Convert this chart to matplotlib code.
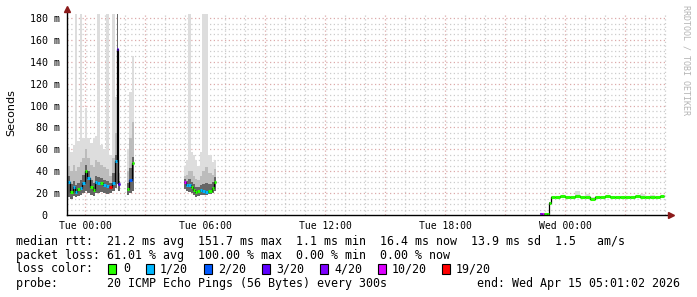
import numpy as np
import matplotlib
matplotlib.use("Agg")
import matplotlib.pyplot as plt
from matplotlib.patches import Rectangle
from matplotlib.lines import Line2D

W, H = 697, 297
MONO = "DejaVu Sans Mono"

# samples, hours relative to Tue 00:00 ; seg = data block (gaps between)
seg = [0] * 21 + [1] * 3 + [2] * 13 + [3] * 28
t = [-0.87, -0.75, -0.62, -0.50, -0.38, -0.25, -0.13, 0.00, 0.12, 0.25, 0.38,
     0.50, 0.62, 0.75, 0.88, 1.05, 1.20, 1.35, 1.50, 1.58, 1.67,
     2.08, 2.20, 2.33,
     4.97, 5.07, 5.17, 5.28, 5.40, 5.50, 5.62, 5.75, 5.87, 6.00, 6.17, 6.33, 6.45,
     22.75, 22.85, 22.95, 23.08, 23.20, 23.30, 23.50, 23.75, 24.00, 24.25, 24.50,
     24.75, 25.00, 25.25, 25.50, 25.75, 26.00, 26.25, 26.50, 26.75, 27.00, 27.25,
     27.50, 27.75, 28.00, 28.25, 28.50, 28.75]
seg_end = [1.75, 2.45, 6.55, 28.93]

# median rtt (ms) and loss class (index into loss_colors)
med = [30.4, 21.3, 25.9, 21.0, 23.7, 24.6, 29.0, 40.5, 33.5, 25.9, 22.9,
       30.4, 29.0, 29.5, 27.4, 26.5, 25.3, 29.5, 49.6, 151.7, 28.3,
       23.5, 32.0, 47.3,
       29.9, 27.0, 27.4, 25.3, 23.0, 21.3, 21.5, 22.9, 21.9, 21.3, 21.9, 24.4, 30.4,
       1.3, 1.1, 1.2, 1.2, 11.0, 16.2, 16.2, 17.0, 16.2, 16.2, 17.0,
       16.2, 16.2, 15.0, 16.2, 16.2, 17.0, 16.2, 16.2, 16.5, 16.2, 16.2,
       17.0, 16.4, 16.2, 16.2, 16.2, 17.0]
loss = [1, 0, 1, 1, 0, 1, 1, 0, 1, 0, 0, 1, 1, 0, 1, 1, 6, 1, 1, 3, 3,
        0, 2, 0,
        5, 1, 1, 0, 0, 0, 0, 1, 1, 1, 0, 0, 0,
        4, 5] + [0] * 26

# smoke: lowest ping, top of dark band, top of mid band, highest ping
lo = [16, 15, 17, 16, 17, 18, 20, 22, 20, 18, 17, 20, 20, 21, 20, 19, 20, 22, 25, 28, 22,
      18, 20, 22,
      24, 22, 21, 20, 18, 16, 17, 18, 18, 18, 19, 20, 22,
      0.9, 0.8, 0.9, 0.9, 10.5, 15.6, 15.6, 16.4, 15.6, 15.6, 16.4, 15.6, 15.6, 14.4,
      15.6, 15.6, 16.4, 15.6, 15.6, 15.9, 15.6, 15.6, 16.4, 15.8, 15.6, 15.6, 15.6, 16.4]
dk = [36, 28, 31, 27, 29, 32, 37, 46, 40, 32, 29, 36, 35, 34, 32, 31, 29, 38, 55, 185, 31,
      29, 43, 53,
      33, 31, 33, 30, 28, 26, 26, 27, 28, 29, 28, 30, 35,
      1.6, 1.4, 1.5, 1.5, 11.5, 16.6, 16.6, 17.4, 16.6, 16.6, 17.4, 16.6, 16.6, 15.4,
      16.6, 16.6, 17.4, 16.6, 16.6, 16.9, 16.6, 16.6, 17.4, 16.8, 16.6, 16.6, 16.6, 17.4]
md = [45, 40, 46, 40, 44, 48, 52, 60, 52, 46, 44, 50, 48, 46, 44, 42, 36, 52, 75, 185, 38,
      40, 70, 85,
      36, 37, 40, 40, 36, 33, 32, 36, 40, 44, 38, 37, 42,
      1.7, 1.5, 1.6, 1.6, 11.8, 16.8, 16.8, 17.6, 16.8, 16.8, 18.5, 16.8, 17.5, 15.6,
      16.8, 16.8, 17.6, 16.8, 16.8, 17.1, 16.8, 16.8, 17.6, 17.5, 16.8, 17.2, 16.8, 17.6]
hi = [62, 58, 64, 185, 68, 185, 70, 98, 70, 66, 70, 72, 185, 64, 60, 185, 55, 185, 108, 185, 50,
      60, 112, 145,
      45, 50, 185, 58, 55, 50, 45, 58, 185, 185, 55, 48, 50,
      1.8, 1.6, 1.7, 1.7, 12.0, 17.0, 17.0, 17.8, 17.0, 17.0, 21.9, 17.0, 19.0, 16.0,
      17.0, 17.0, 17.8, 17.0, 17.0, 17.3, 17.0, 17.0, 17.8, 19.5, 17.0, 18.0, 17.0, 17.8]

loss_labels = ["0", "1/20", "2/20", "3/20", "4/20", "10/20", "19/20"]
loss_colors = ["#26ff00", "#00b8ff", "#0059ff", "#5e00ff", "#7e00ff", "#dd00ff", "#ff0000"]

tick_hours = [0, 6, 12, 18, 24]
tick_names = ["Tue 00:00", "Tue 06:00", "Tue 12:00", "Tue 18:00", "Wed 00:00"]
yticks = [0, 20, 40, 60, 80, 100, 120, 140, 160, 180]

legend_rows = [
    "median rtt:  21.2 ms avg  151.7 ms max  1.1 ms min  16.4 ms now  13.9 ms sd  1.5   am/s",
    "packet loss: 61.01 % avg  100.00 % max  0.00 % min  0.00 % now",
    "loss color:",
    "probe:       20 ICMP Echo Pings (56 Bytes) every 300s",
]


def px(x, y):
    return x / W, 1 - y / H


fig = plt.figure(figsize=(W / 100, H / 100), dpi=100)
fig.patch.set_facecolor("white")
ax = fig.add_axes([67 / W, 1 - 215 / H, 600 / W, (215 - 14.2) / H])
ax.set_xlim(-0.9, 29.1)
ax.set_ylim(0, 183.5)

# grid
for h in range(0, 30):
    major = h % 3 == 0
    ax.axvline(h, color="#dcaaaa" if major else "#cccccc", lw=0.9,
               ls=(0, (1, 2)), zorder=0)
for v in range(5, 184, 5):
    major = v % 20 == 0
    ax.axhline(v, color="#dcaaaa" if major else "#cccccc", lw=0.9,
               ls=(0, (1, 2)), zorder=0)

t = np.array(t)
seg = np.array(seg)
arrs = {k: np.array(v, dtype=float) for k, v in
        dict(med=med, lo=lo, dk=dk, md=md, hi=hi, loss=loss).items()}

for s, end in enumerate(seg_end):
    idx = np.where(seg == s)[0]
    edges = np.append(t[idx], end)
    m = arrs["med"][idx]
    ax.stairs(arrs["hi"][idx], edges, baseline=arrs["lo"][idx], fill=True,
              color="#dddddd", lw=0, zorder=1)
    ax.stairs(arrs["md"][idx], edges, baseline=arrs["lo"][idx], fill=True,
              color="#bcbcbc", lw=0, zorder=2)
    ax.stairs(arrs["dk"][idx], edges, baseline=arrs["lo"][idx], fill=True,
              color="#666666", lw=0, zorder=3)
    ax.stairs(m, edges, baseline=None, color="black", lw=0.9, zorder=4)
    cols = [loss_colors[int(c)] for c in arrs["loss"][idx]]
    ax.hlines(m, edges[:-1], edges[1:], colors=cols, lw=2.2, zorder=5)

for sp in ax.spines.values():
    sp.set_visible(False)
ax.set_xticks(tick_hours)
ax.set_xticklabels(tick_names, fontfamily=MONO, fontsize=7)
ax.set_yticks(yticks)
ax.set_yticklabels(["0  "] + [f"{v} m" for v in yticks[1:]],
                   fontfamily=MONO, fontsize=7.2)
ax.tick_params(length=0)
ax.tick_params(axis="y", pad=5)
ax.tick_params(axis="x", pad=4)

# axes with arrows
fig.add_artist(Line2D([67 / W, 67 / W], [1 - 215 / H, 1 - 10 / H], color="black", lw=1))
fig.add_artist(Line2D([67 / W, 670 / W], [1 - 215 / H, 1 - 215 / H], color="black", lw=1))
fig.add_artist(Line2D([67 / W], [1 - 9 / H], marker="^", ms=4.5, color="#8b1a1a", lw=0))
fig.add_artist(Line2D([671 / W], [1 - 215 / H], marker=">", ms=4.5, color="#8b1a1a", lw=0))

fig.text(*px(11, 113), "Seconds", rotation=90, ha="center", va="center",
         fontsize=8, fontfamily="DejaVu Sans")
fig.text(*px(686, 60), "RRDTOOL / TOBI OETIKER", rotation=270, ha="center",
         va="center", fontsize=6, fontfamily=MONO, color="#b4b4b4")

row_y = [241, 255, 269, 283]
for txt, y in zip(legend_rows, row_y):
    fig.text(*px(15.5, y), txt, ha="left", va="center", fontsize=8.4, fontfamily=MONO)
fig.text(*px(680, 283), "end: Wed Apr 15 05:01:02 2026", ha="right", va="center",
         fontsize=8.4, fontfamily=MONO)

sw_x = [108, 145.7, 204.4, 262, 320, 377.6, 442]
lab_x = [123.5, 160, 217.7, 276, 334, 392, 456]
for c, lab, sx, lx in zip(loss_colors, loss_labels, sw_x, lab_x):
    fig.add_artist(Rectangle(px(sx, 274), 8 / W, 10 / H, facecolor=c,
                             edgecolor="black", lw=0.8))
    fig.text(*px(lx, 269), lab, ha="left", va="center", fontsize=8.4, fontfamily=MONO)

fig.savefig("out.png", dpi=100, facecolor="white")
